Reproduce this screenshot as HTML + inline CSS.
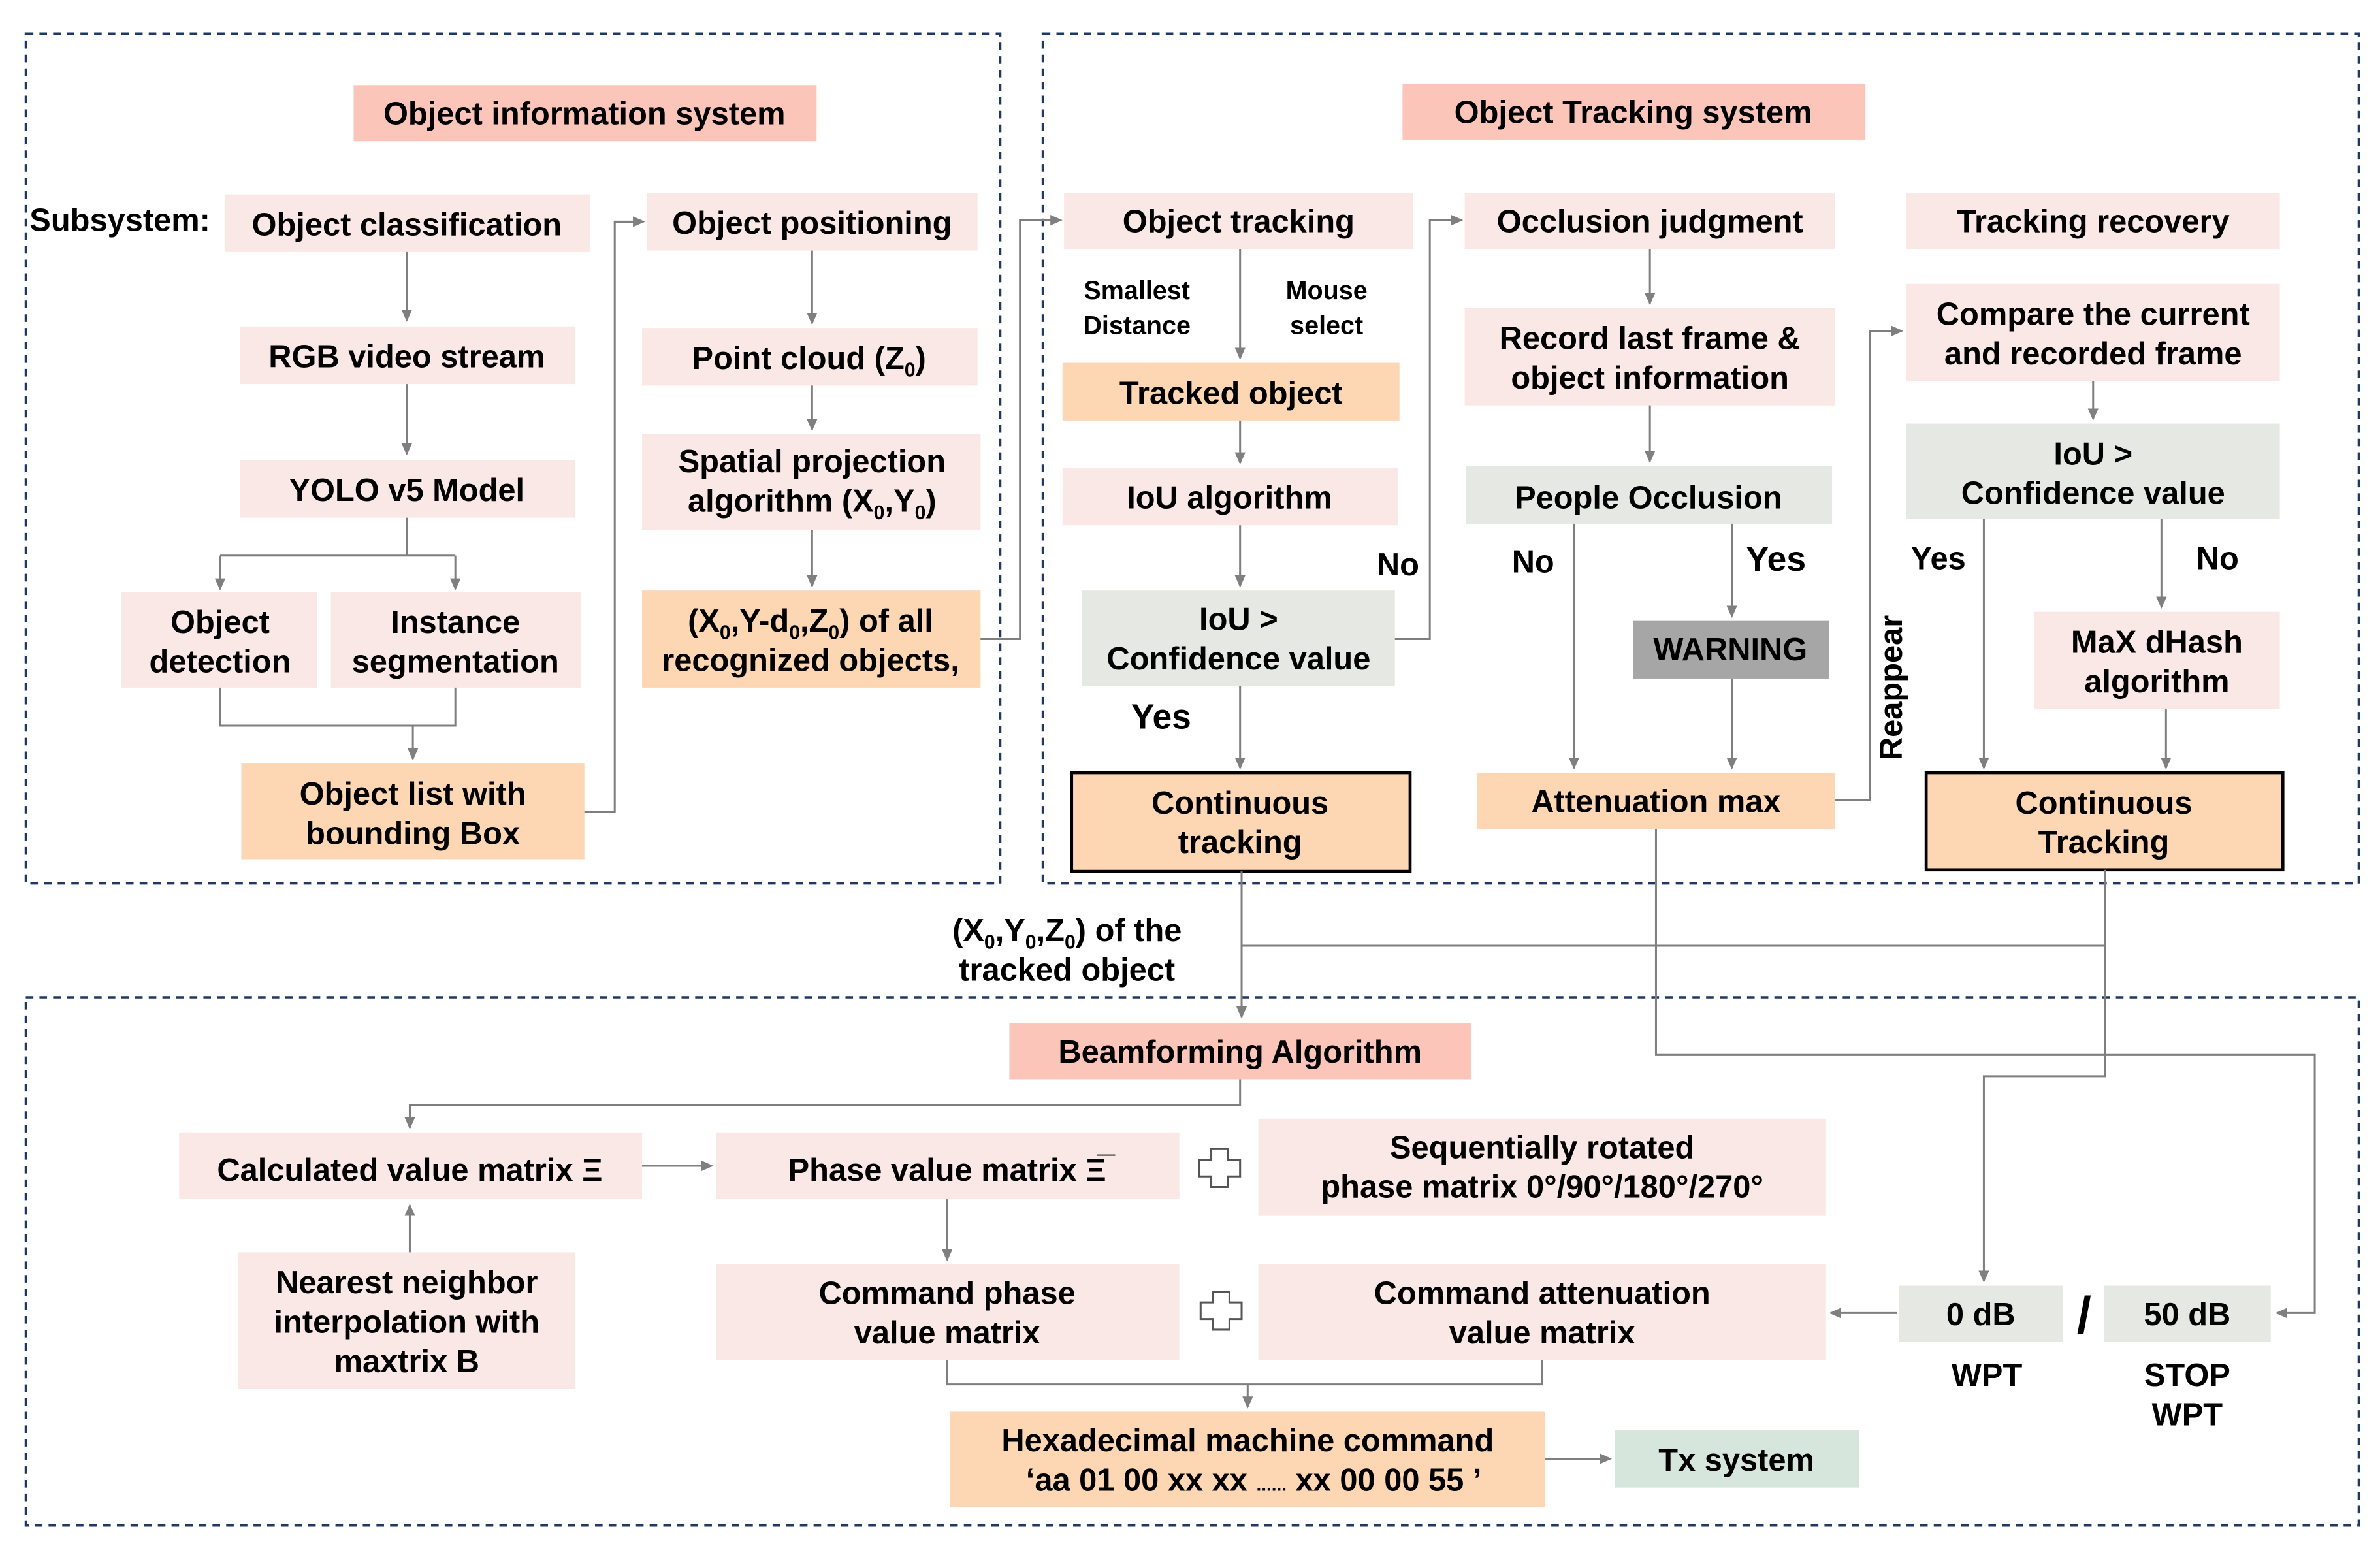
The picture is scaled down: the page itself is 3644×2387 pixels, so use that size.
<!DOCTYPE html>
<html><head><meta charset="utf-8"><style>
html,body{margin:0;padding:0;background:#fff}
svg{display:block}
text{font-family:"Liberation Sans",Arial,sans-serif;font-weight:bold;font-size:21px;fill:#000;text-anchor:middle}
.s{font-size:17px}
.l{stroke:#7f7f7f;stroke-width:1.3;fill:none}
.d{stroke:#1f3864;stroke-width:1.5;fill:none;stroke-dasharray:5,4}
</style></head><body>
<svg width="3644" height="2387" viewBox="0 0 1568 1027" xmlns="http://www.w3.org/2000/svg">
<defs><marker id="a" markerWidth="8" markerHeight="8" refX="7" refY="4" orient="auto" markerUnits="userSpaceOnUse"><path d="M0,0.5 L8,4 L0,7.5 z" fill="#7f7f7f"/></marker></defs>
<rect x="0" y="0" width="1568" height="1027" fill="#fff"/>
<rect class="d" x="17" y="22" width="642" height="560"/>
<rect class="d" x="687" y="22" width="867" height="560"/>
<rect class="d" x="17" y="657" width="1537" height="348"/>

<g fill="#fcc5b9">
<rect x="233" y="56" width="305" height="37"/><rect x="924" y="55" width="305" height="37"/><rect x="665" y="674" width="304" height="37"/>
</g>
<g fill="#f9e8e6">
<rect x="148" y="128" width="241" height="38"/><rect x="426" y="127" width="218" height="38"/>
<rect x="158" y="215" width="221" height="38"/><rect x="158" y="303" width="221" height="38"/>
<rect x="80" y="390" width="129" height="63"/><rect x="218" y="390" width="165" height="63"/>
<rect x="423" y="216" width="221" height="38"/><rect x="423" y="286" width="223" height="63"/>
<rect x="701" y="127" width="230" height="37"/><rect x="700" y="308" width="221" height="38"/>
<rect x="965" y="127" width="244" height="37"/><rect x="965" y="203" width="244" height="64"/>
<rect x="1256" y="127" width="246" height="37"/><rect x="1256" y="187" width="246" height="64"/>
<rect x="1340" y="403" width="162" height="64"/>
<rect x="118" y="746" width="305" height="44"/><rect x="472" y="746" width="305" height="44"/>
<rect x="829" y="737" width="374" height="64"/><rect x="157" y="825" width="222" height="90"/>
<rect x="472" y="833" width="305" height="63"/><rect x="829" y="833" width="374" height="63"/>
</g>
<g fill="#fdd6b3">
<rect x="159" y="503" width="226" height="63"/><rect x="423" y="389" width="223" height="64"/>
<rect x="700" y="239" width="222" height="38"/><rect x="973" y="509" width="236" height="37"/>
<rect x="626" y="930" width="392" height="63"/>
</g>
<rect x="706" y="509" width="223" height="65" fill="#fdd6b3" stroke="#000" stroke-width="2"/>
<rect x="1269" y="509" width="235" height="64" fill="#fdd6b3" stroke="#000" stroke-width="2"/>
<g fill="#e6e8e3">
<rect x="713" y="389" width="206" height="63"/><rect x="966" y="307" width="241" height="38"/>
<rect x="1256" y="279" width="246" height="63"/><rect x="1251" y="847" width="108" height="37"/><rect x="1386" y="847" width="110" height="37"/>
</g>
<rect x="1076" y="409" width="129" height="38" fill="#a6a6a6"/>
<rect x="1064" y="942" width="161" height="38" fill="#d6e6dc"/>

<path class="l" d="M268,166V211" marker-end="url(#a)"/>
<path class="l" d="M268,253V299" marker-end="url(#a)"/>
<path class="l" d="M268,341V366M145,366H300"/>
<path class="l" d="M145,366V388" marker-end="url(#a)"/><path class="l" d="M300,366V388" marker-end="url(#a)"/>
<path class="l" d="M145,453V478H300V453M272,478V500" marker-end="url(#a)"/>
<path class="l" d="M385,535H405V146H424" marker-end="url(#a)"/>
<path class="l" d="M535,165V213" marker-end="url(#a)"/>
<path class="l" d="M535,254V283" marker-end="url(#a)"/>
<path class="l" d="M535,349V386" marker-end="url(#a)"/>
<path class="l" d="M646,421H672V145H699" marker-end="url(#a)"/>
<path class="l" d="M817,164V236" marker-end="url(#a)"/>
<path class="l" d="M817,277V305" marker-end="url(#a)"/>
<path class="l" d="M817,346V386" marker-end="url(#a)"/>
<path class="l" d="M817,452V506" marker-end="url(#a)"/>
<path class="l" d="M919,421H942V145H963" marker-end="url(#a)"/>
<path class="l" d="M1087,164V200" marker-end="url(#a)"/>
<path class="l" d="M1087,267V304" marker-end="url(#a)"/>
<path class="l" d="M1037,345V506" marker-end="url(#a)"/>
<path class="l" d="M1141,345V406" marker-end="url(#a)"/>
<path class="l" d="M1141,447V506" marker-end="url(#a)"/>
<path class="l" d="M1209,527H1232V218H1253" marker-end="url(#a)"/>
<path class="l" d="M1379,251V276" marker-end="url(#a)"/>
<path class="l" d="M1424,342V400" marker-end="url(#a)"/>
<path class="l" d="M1307,342V506" marker-end="url(#a)"/>
<path class="l" d="M1427,467V506" marker-end="url(#a)"/>
<path class="l" d="M818,574V670" marker-end="url(#a)"/>
<path class="l" d="M818,623H1387"/>
<path class="l" d="M1387,573V709H1307V844" marker-end="url(#a)"/>
<path class="l" d="M1091,546V695H1525V865H1500" marker-end="url(#a)"/>
<path class="l" d="M817,711V728H270V743" marker-end="url(#a)"/>
<path class="l" d="M270,825V794" marker-end="url(#a)"/>
<path class="l" d="M423,768H469" marker-end="url(#a)"/>
<path class="l" d="M624,790V830" marker-end="url(#a)"/>
<path class="l" d="M1250,865H1206" marker-end="url(#a)"/>
<path class="l" d="M624,896V912H1016V896M822,912V927" marker-end="url(#a)"/>
<path class="l" d="M1018,961H1061" marker-end="url(#a)"/>

<path d="M798,757h11v7h8v11h-8v7h-11v-7h-8v-11h8z" fill="#fff" stroke="#555" stroke-width="1.3"/>
<path d="M799,851h11v7h8v11h-8v7h-11v-7h-8v-11h8z" fill="#fff" stroke="#555" stroke-width="1.3"/>

<text x="385" y="82">Object information system</text>
<text x="1076" y="81">Object Tracking system</text>
<text x="79" y="152">Subsystem:</text>
<text x="268" y="155">Object classification</text>
<text x="535" y="154">Object positioning</text>
<text x="268" y="242">RGB video stream</text>
<text x="268" y="330">YOLO v5 Model</text>
<text x="145" y="417">Object</text><text x="145" y="443">detection</text>
<text x="300" y="417">Instance</text><text x="300" y="443">segmentation</text>
<text x="272" y="530">Object list with</text><text x="272" y="556">bounding Box</text>
<text x="533" y="243">Point cloud (Z<tspan font-size="13" dy="5">0</tspan><tspan dy="-5">)</tspan></text>
<text x="535" y="311">Spatial projection</text>
<text x="535" y="337">algorithm (X<tspan font-size="13" dy="5">0</tspan><tspan dy="-5">,Y</tspan><tspan font-size="13" dy="5">0</tspan><tspan dy="-5">)</tspan></text>
<text x="534" y="416">(X<tspan font-size="13" dy="5">0</tspan><tspan dy="-5">,Y-d</tspan><tspan font-size="13" dy="5">0</tspan><tspan dy="-5">,Z</tspan><tspan font-size="13" dy="5">0</tspan><tspan dy="-5">) of all</tspan></text>
<text x="534" y="442">recognized objects,</text>
<text x="816" y="153">Object tracking</text>
<text class="s" x="749" y="197">Smallest</text><text class="s" x="749" y="220">Distance</text>
<text class="s" x="874" y="197">Mouse</text><text class="s" x="874" y="220">select</text>
<text x="811" y="266">Tracked object</text>
<text x="810" y="335">IoU algorithm</text>
<text x="921" y="379">No</text>
<text x="816" y="415">IoU &gt;</text><text x="816" y="441">Confidence value</text>
<text x="765" y="480" style="font-size:23px">Yes</text>
<text x="817" y="536">Continuous</text><text x="817" y="562">tracking</text>
<text x="1087" y="153">Occlusion judgment</text>
<text x="1087" y="230">Record last frame &amp;</text><text x="1087" y="256">object information</text>
<text x="1086" y="335">People Occlusion</text>
<text x="1010" y="377">No</text>
<text x="1170" y="376" style="font-size:23px">Yes</text>
<text x="1140" y="435">WARNING</text>
<text x="1091" y="535">Attenuation max</text>
<text x="0" y="0" transform="translate(1253,453) rotate(-90)">Reappear</text>
<text x="1379" y="153">Tracking recovery</text>
<text x="1379" y="214">Compare the current</text><text x="1379" y="240">and recorded frame</text>
<text x="1379" y="306">IoU &gt;</text><text x="1379" y="332">Confidence value</text>
<text x="1277" y="375">Yes</text><text x="1461" y="375">No</text>
<text x="1421" y="430">MaX dHash</text><text x="1421" y="456">algorithm</text>
<text x="1386" y="536">Continuous</text><text x="1386" y="562">Tracking</text>
<text x="703" y="620">(X<tspan font-size="13" dy="5">0</tspan><tspan dy="-5">,Y</tspan><tspan font-size="13" dy="5">0</tspan><tspan dy="-5">,Z</tspan><tspan font-size="13" dy="5">0</tspan><tspan dy="-5">) of the</tspan></text>
<text x="703" y="646">tracked object</text>
<text x="817" y="700">Beamforming Algorithm</text>
<text x="270" y="778">Calculated value matrix Ξ</text>
<text x="624" y="778">Phase value matrix Ξ̅</text>
<text x="1016" y="763">Sequentially rotated</text><text x="1016" y="789">phase matrix 0°/90°/180°/270°</text>
<text x="268" y="852">Nearest neighbor</text><text x="268" y="878">interpolation with</text><text x="268" y="904">maxtrix B</text>
<text x="624" y="859">Command phase</text><text x="624" y="885">value matrix</text>
<text x="1016" y="859">Command attenuation</text><text x="1016" y="885">value matrix</text>
<text x="1305" y="873">0 dB</text><text x="1441" y="873">50 dB</text>
<text x="1373" y="878" style="font-size:34px">/</text>
<text x="1309" y="913">WPT</text>
<text x="1441" y="913">STOP</text><text x="1441" y="939">WPT</text>
<text x="822" y="956">Hexadecimal machine command</text>
<text x="826" y="982">‘aa 01 00 xx xx <tspan font-size="12">......</tspan> xx 00 00 55 ’</text>
<text x="1144" y="969">Tx system</text>
</svg>
</body></html>
